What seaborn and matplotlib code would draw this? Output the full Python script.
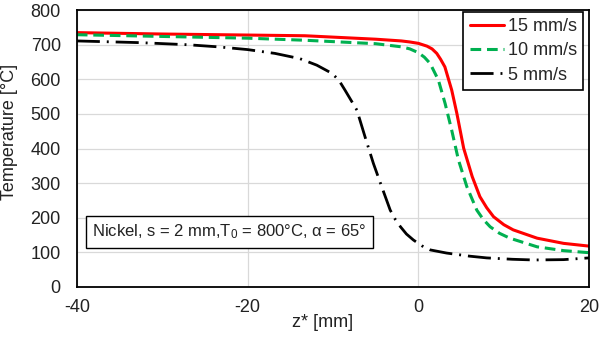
import matplotlib
matplotlib.use("Agg")
import matplotlib.pyplot as plt
import seaborn as sns
import pandas as pd

# ---- data ----
z_15 = [-40, -30, -20, -13.3, -5, -2, -1, 0, 1, 1.6, 2.15, 2.6, 3.1, 3.9, 4.5, 5.3, 6.3, 7.2, 8.0, 8.8, 10.0, 11.1, 13.9, 17, 20]
T_15 = [735, 731, 728, 726, 716, 711, 708, 704, 696, 688, 675, 658, 636, 569, 502, 401, 319, 261, 229, 203, 180, 165, 141, 126, 118]

z_10 = [-40, -30, -20, -13.3, -5, -2, -1, 0, 0.7, 1.37, 2.34, 3.13, 3.9, 4.69, 5.67, 6.84, 7.6, 8.4, 9.5, 10.7, 13.9, 17, 20]
T_10 = [729, 724, 719, 713, 703, 694, 688, 677, 664, 646, 598, 530, 453, 367, 290, 222, 195, 174, 155, 141, 116, 105, 99]

z_5 = [-40, -32.5, -27, -23.5, -20, -16.8, -13.9, -11.9, -10.1, -9.3, -8.6, -7.2, -6.25, -5.27, -4.3, -3.3, -2.7, -2.1, -1.4, -0.6, 0.4, 1.4, 3.3, 6, 8, 11, 13.5, 17, 20]
T_5 = [711, 706, 700, 694, 686, 675, 660, 641, 617, 597, 569, 511, 434, 357, 290, 222, 195, 174, 153, 136, 119, 107, 98, 89, 84, 80, 78, 79, 84]

series_labels = ["15 mm/s", "10 mm/s", "5 mm/s"]
x_ticks = [-40, -20, 0, 20]
y_ticks = [0, 100, 200, 300, 400, 500, 600, 700, 800]
x_label = "z* [mm]"
y_label = "Temperature [°C]"
note = "Nickel, s = 2 mm,T$_0$ = 800°C, α = 65°"

# ---- style ----
sns.set_style("white")
plt.rcParams["font.family"] = ["Liberation Sans", "DejaVu Sans"]
plt.rcParams["mathtext.default"] = "regular"
plt.rcParams["axes.unicode_minus"] = False

fig = plt.figure(figsize=(6.0, 3.38), dpi=100)
ax = fig.add_axes([0.128, 0.151, 0.854, 0.819])

frames = [
    pd.DataFrame({"z": z_15, "T": T_15, "series": series_labels[0]}),
    pd.DataFrame({"z": z_10, "T": T_10, "series": series_labels[1]}),
    pd.DataFrame({"z": z_5, "T": T_5, "series": series_labels[2]}),
]
styles = [
    dict(color="#FF0000", lw=2.2, linestyle="-"),
    dict(color="#00B050", lw=2.2, linestyle=(0, (3.5, 1.9))),
    dict(color="#000000", lw=2.0, linestyle=(0, (8.3, 2.5, 0.7, 2.5))),
]
for df, st in zip(frames, styles):
    sns.lineplot(data=df, x="z", y="T", ax=ax, label=df["series"].iloc[0],
                 estimator=None, sort=False, **st)

ax.set_xlim(-40, 20)
ax.set_ylim(0, 800)
ax.set_xticks(x_ticks)
ax.set_yticks(y_ticks)
ax.grid(True, color="#D9D9D9", lw=0.9)
ax.set_axisbelow(True)
for s in ax.spines.values():
    s.set_visible(True)
    s.set_color("black")
    s.set_linewidth(1.3)
ax.tick_params(axis="both", length=0, labelsize=13, colors="#222222")
ax.tick_params(axis="y", pad=11.5)
ax.tick_params(axis="x", pad=8.5)

ax.set_xlabel(x_label, fontsize=13, color="#222222")
ax.set_ylabel(y_label, fontsize=13, color="#222222")
ax.xaxis.set_label_coords(0.479, -0.097)
ax.yaxis.set_label_coords(-0.115, 0.561)

ax.text(0.298, 0.199, note, transform=ax.transAxes, ha="center", va="center",
        fontsize=12, color="#222222",
        bbox=dict(boxstyle="square,pad=0.4", fc="white", ec="black", lw=1.0))

leg = ax.legend(loc="upper right", bbox_to_anchor=(0.988, 0.994), borderaxespad=0,
                frameon=True, fancybox=False, edgecolor="black", framealpha=1,
                fontsize=13, handlelength=1.9, handletextpad=0.2,
                borderpad=0.35, labelspacing=0.4)
leg.get_frame().set_linewidth(1.2)

fig.savefig("out.png", dpi=100)
